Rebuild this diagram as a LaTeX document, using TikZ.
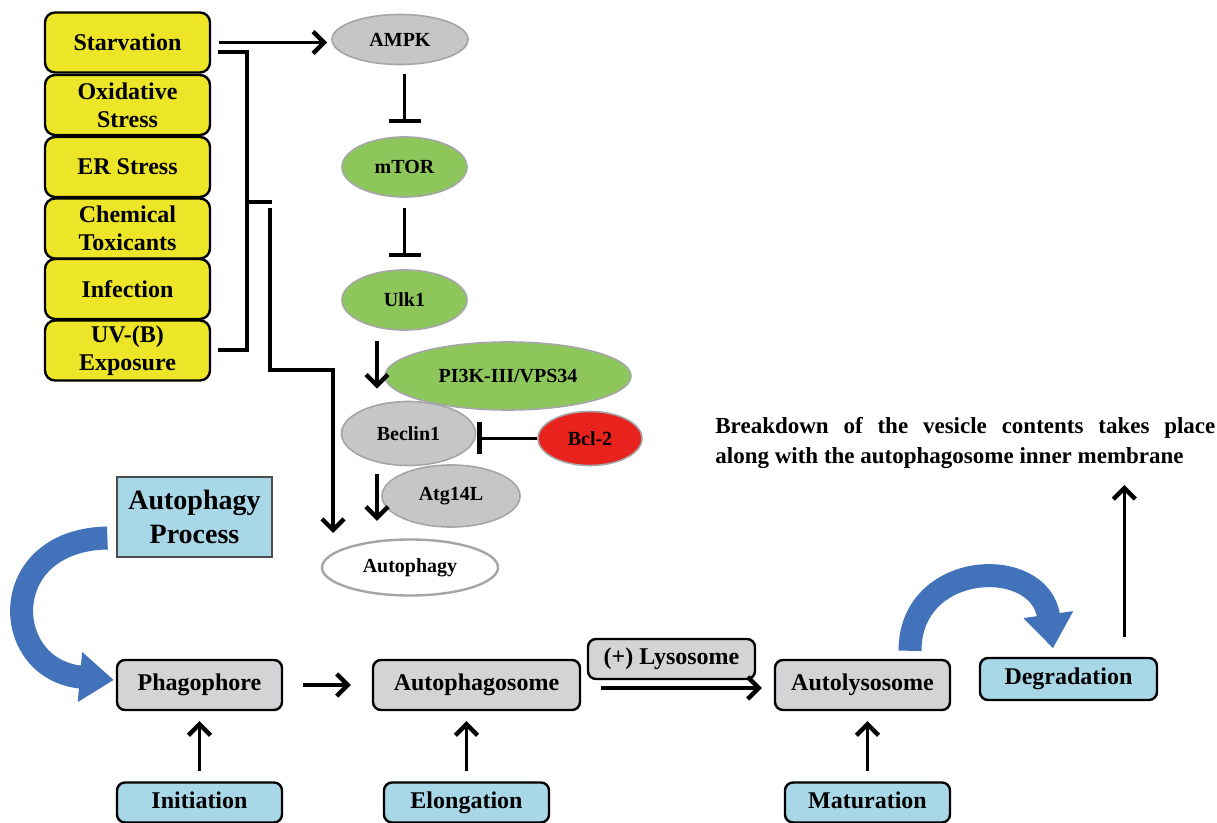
\documentclass[tikz,border=0pt]{standalone}
\usepackage{fontspec}
\setmainfont{Liberation Serif}
\usetikzlibrary{arrows.meta,shapes.geometric}

\definecolor{stressyellow}{RGB}{237,230,40}
\definecolor{ampkgray}{RGB}{198,198,200}
\definecolor{ringgray}{RGB}{165,165,165}
\definecolor{leafgreen}{RGB}{141,199,91}
\definecolor{bclred}{RGB}{232,34,28}
\definecolor{stagegray}{RGB}{212,212,214}
\definecolor{phaseblue}{RGB}{168,216,232}
\definecolor{arrowblue}{RGB}{66,114,186}

\tikzset{
  stressbox/.style={draw, line width=1.2pt, rounded corners=5pt, fill=stressyellow,
    minimum width=82.5pt, minimum height=30pt, inner sep=1pt, align=center,
    font=\bfseries\fontsize{12}{14}\selectfont},
  protein/.style={ellipse, draw=ringgray, line width=0.8pt, inner sep=1pt,
    font=\bfseries\fontsize{10}{12}\selectfont},
  stage/.style={draw, line width=1.2pt, rounded corners=4pt, fill=stagegray,
    minimum height=25pt, inner sep=1pt, text height=8.5pt, text depth=2.5pt,
    font=\bfseries\fontsize{12}{14}\selectfont},
  phase/.style={stage, fill=phaseblue, minimum width=82.5pt, minimum height=20pt},
  act/.style={line width=1.6pt, -{Straight Barb[length=5.5pt,width=11pt,line width=2.2pt]}},
  inh/.style={line width=1.6pt, -{Bar[width=16pt,line width=2.2pt]}},
  bluearrow/.style={draw=arrowblue, line width=11.5pt,
    -{Triangle[width=24pt,length=17pt,fill=arrowblue]}}
}

\begin{document}
\begin{tikzpicture}[x=0.5pt,y=-0.5pt]
\useasboundingbox (0,0) rectangle (1217,823);

% stress stimuli
\node[stressbox] (starv) at (127.5,42.5) {Starvation};
\node[stressbox] (oxid) at (127.5,105) {Oxidative\\Stress};
\node[stressbox] (erstr) at (127.5,167) {ER Stress};
\node[stressbox] (chem) at (127.5,228.5) {Chemical\\Toxicants};
\node[stressbox] (infec) at (127.5,289) {Infection};
\node[stressbox] (uvb) at (127.5,350.5) {UV-(B)\\Exposure};

% brace and feed line
\draw[line width=1.6pt] (218,52) -- (247,52) -- (247,350) -- (218,350);
\draw[line width=1.6pt] (247,202) -- (272,202);
\coordinate (feedend) at (333,533);
\draw[act] (270,208) -- (270,370) -- (333,370) -- (feedend);

% signalling
\node[protein, fill=ampkgray, minimum width=68pt, minimum height=25pt] (ampk) at (400,39.5) {AMPK};
\node[protein, fill=leafgreen, minimum width=62.5pt, minimum height=30pt] (mtor) at (404.5,167) {mTOR};
\node[protein, fill=leafgreen, minimum width=62.5pt, minimum height=30pt] (ulk) at (404.5,300) {Ulk1};
\node[protein, fill=leafgreen, minimum width=123pt, minimum height=34pt] (pik) at (508,376) {PI3K-III/VPS34};
\node[protein, fill=ampkgray, minimum width=69pt, minimum height=31pt] (atg) at (451,496) {Atg14L};
\node[protein, fill=ampkgray, minimum width=67pt, minimum height=32pt] (beclin) at (408.5,433.5) {Beclin1};
\node[protein, fill=bclred, minimum width=52pt, minimum height=27pt] (bcl) at (590,438.5) {Bcl-2};
\node[protein, fill=white, line width=1.2pt, minimum width=88pt, minimum height=28pt] (autoph) at (410,567.5) {Autophagy};

\draw[act, shorten <=4pt, shorten >=2pt] (starv.east) -- (starv.east -| ampk.west);
\draw[inh, shorten <=4.25pt, shorten >=6.5pt] (ampk.south -| mtor.north) -- (mtor.north);
\draw[inh, shorten <=5pt, shorten >=6pt] (mtor.south) -- (ulk.north);
\draw[act, shorten <=5pt, shorten >=6pt] ([xshift=-13.75pt]ulk.south) -- ([xshift=-13.75pt]ulk.south |- beclin.north);
\draw[act, shorten <=4pt, shorten >=8.75pt] ([xshift=-15.75pt]beclin.south) -- ([xshift=-15.75pt]beclin.south |- autoph.north);
\draw[inh, shorten >=0.5pt] (bcl.west) -- (bcl.west -| beclin.east);

% autophagy process
\node[draw=black!70, line width=0.6pt, fill=phaseblue, minimum width=77.5pt, minimum height=40pt,
  inner sep=1pt, align=center, font=\bfseries\fontsize{14}{17}\selectfont] (process) at (194.5,517) {Autophagy\\Process};
\node[stage, minimum width=82.5pt] (phago) at (199.5,685) {Phagophore};
\node[stage, minimum width=103.5pt] (autosome) at (476.5,685) {Autophagosome};
\node[stage, minimum width=83.5pt, minimum height=20pt] (lyso) at (671.5,659) {(+) Lysosome};
\node[stage, minimum width=87.5pt] (autolys) at (862.5,685) {Autolysosome};
\node[phase, minimum width=88.5pt, minimum height=21pt] (degr) at (1068.5,679) {Degradation};
\node[phase] (init) at (199.5,802.5) {Initiation};
\node[phase] (elong) at (466.5,802.5) {Elongation};
\node[phase] (matur) at (867.5,802.5) {Maturation};

\node[anchor=north west, align=left, inner sep=0pt, font=\bfseries\fontsize{11.5}{15}\selectfont] (breakdown) at (715,417)
  {\makebox[250pt][s]{Breakdown of the vesicle contents takes place}\\along with the autophagosome inner membrane};

\draw[act, shorten <=10pt, shorten >=10.5pt] (phago.east) -- (autosome.west);
\draw[act, line width=2pt, shorten <=10pt, shorten >=6pt] ([yshift=-1.5pt]autosome.east) -- ([yshift=-1.5pt]autolys.west);
\draw[act, shorten <=5pt, shorten >=5pt] (init.north) -- (phago.south);
\draw[act, shorten <=5pt, shorten >=5pt] (elong.north) -- (elong.north |- autosome.south);
\draw[act, shorten <=5pt, shorten >=5pt] (matur.north) -- (matur.north |- autolys.south);
\coordinate (btop) at (1124.3,485);
\draw[act, shorten <=10pt] ([xshift=27.9pt]degr.north) -- (btop);

% curved block arrows
\draw[bluearrow] ([xshift=-4.5pt,yshift=-10.5pt]process.west) .. controls (-5,540) and (0,670) .. ([xshift=-1pt,yshift=2.5pt]phago.west);
\draw[bluearrow] ([xshift=23.75pt,yshift=4pt]autolys.north) .. controls (910,560) and (1040,555) .. ([xshift=-7.75pt,yshift=4.25pt]degr.north);
\end{tikzpicture}
\end{document}
